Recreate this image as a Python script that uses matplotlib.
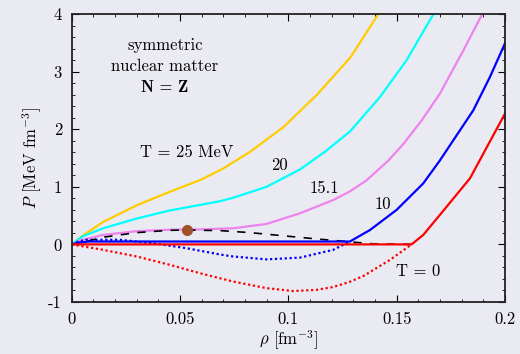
import matplotlib
matplotlib.use('Agg')
import matplotlib.pyplot as plt
from matplotlib.ticker import MultipleLocator

plt.rcParams['font.family'] = 'serif'
plt.rcParams['font.serif'] = ['cmr10', 'DejaVu Serif']
plt.rcParams['mathtext.fontset'] = 'cm'
plt.rcParams['axes.unicode_minus'] = False

# values (rho in fm^-3, P in MeV fm^-3)
rho_t25 = [0.0, 0.005, 0.0145, 0.03, 0.045, 0.06, 0.07, 0.0824, 0.0978, 0.1132, 0.1287, 0.1415]
p_t25 = [0.0, 0.15, 0.39, 0.68, 0.91, 1.13, 1.32, 1.61, 2.04, 2.60, 3.25, 4.0]

rho_t20 = [0.0, 0.005, 0.0145, 0.03, 0.0453, 0.0591, 0.0684, 0.0745, 0.0899, 0.1053, 0.1176,
           0.1284, 0.1423, 0.1546, 0.167]
p_t20 = [0.0, 0.14, 0.28, 0.45, 0.59, 0.685, 0.75, 0.81, 1.0, 1.3, 1.63, 1.96, 2.56, 3.2, 4.0]

rho_t15 = [0.0, 0.005, 0.0145, 0.03, 0.045, 0.059, 0.0745, 0.0899, 0.1053, 0.1207, 0.1284,
           0.136, 0.146, 0.153, 0.1615, 0.17, 0.1808, 0.1895]
p_t15 = [0.0, 0.08, 0.165, 0.23, 0.255, 0.26, 0.28, 0.355, 0.54, 0.77, 0.92, 1.11, 1.45, 1.74,
         2.15, 2.62, 3.37, 4.0]

rho_t10 = [0.0, 0.003, 0.008, 0.1284, 0.1377, 0.150, 0.1623, 0.170, 0.1854, 0.1931, 0.2]
p_t10 = [0.0, 0.03, 0.05, 0.05, 0.25, 0.60, 1.06, 1.46, 2.33, 2.91, 3.49]
rho_t10_unst = [0.0, 0.003, 0.0068, 0.0222, 0.0376, 0.053, 0.0684, 0.0745, 0.0899, 0.1053,
                0.1207, 0.1284]
p_t10_unst = [0.0, 0.05, 0.08, 0.08, 0.02, -0.066, -0.175, -0.21, -0.26, -0.23, -0.095, 0.05]

rho_t0 = [0.0, 0.1569, 0.1623, 0.1731, 0.1839, 0.1908, 0.2]
p_t0 = [0.0, 0.0, 0.165, 0.655, 1.15, 1.63, 2.27]
rho_t0_unst = [0.0, 0.0145, 0.03, 0.0453, 0.0591, 0.0745, 0.0899, 0.1022, 0.113, 0.1207,
               0.1284, 0.1346, 0.1469, 0.1569]
p_t0_unst = [0.0, -0.095, -0.21, -0.355, -0.5, -0.645, -0.76, -0.81, -0.79, -0.74, -0.65,
             -0.55, -0.27, 0.0]

rho_coex = [0.0, 0.0068, 0.0145, 0.03, 0.0453, 0.053, 0.0684, 0.0822, 0.0976, 0.113, 0.1253,
            0.139, 0.157]
p_coex = [0.0, 0.05, 0.125, 0.205, 0.245, 0.25, 0.24, 0.205, 0.15, 0.095, 0.055, 0.01, 0.0]

crit_rho = [0.053]
crit_p = [0.25]

fig, ax = plt.subplots(figsize=(5.2, 3.54), dpi=100)
bg = '#eaeaf2'
fig.patch.set_facecolor(bg)
ax.set_facecolor(bg)

lw = 1.6
dots = (0, (1, 1.2))
ax.plot(rho_t25, p_t25, color='#ffcc00', lw=lw)
ax.plot(rho_t20, p_t20, color='#00ffff', lw=lw)
ax.plot(rho_t15, p_t15, color='#ee82ee', lw=lw)
ax.plot(rho_t10_unst, p_t10_unst, color='#0000ff', lw=lw, ls=dots)
ax.plot(rho_t0_unst, p_t0_unst, color='#ff0000', lw=lw, ls=dots)
ax.plot(rho_coex, p_coex, color='black', lw=1.2, ls=(0, (5, 5)))
ax.plot(rho_t10, p_t10, color='#0000ff', lw=lw)
ax.plot(rho_t0, p_t0, color='#ff0000', lw=lw)
ax.plot(crit_rho, crit_p, 'o', color='#a0522d', ms=7, zorder=5)

fs = 12
ax.text(0.043, 3.45, 'symmetric', ha='center', va='center', fontsize=fs)
ax.text(0.043, 3.09, 'nuclear matter', ha='center', va='center', fontsize=fs)
ax.text(0.043, 2.72, 'N = Z', ha='center', va='center', fontsize=fs, family='cmb10')
ax.text(0.053, 1.60, 'T = 25 MeV', ha='center', va='center', fontsize=fs)
ax.text(0.096, 1.37, '20', ha='center', va='center', fontsize=fs)
ax.text(0.1164, 0.97, '15.1', ha='center', va='center', fontsize=fs)
ax.text(0.1437, 0.69, '10', ha='center', va='center', fontsize=fs)
ax.text(0.16, -0.47, 'T = 0', ha='center', va='center', fontsize=fs)

ax.set_xlim(0, 0.2)
ax.set_ylim(-1, 4)
ax.set_xticks([0, 0.05, 0.1, 0.15, 0.2])
ax.set_xticklabels(['0', '0.05', '0.1', '0.15', '0.2'])
ax.set_yticks([-1, 0, 1, 2, 3, 4])
ax.set_yticklabels(['-1', '0', '1', '2', '3', '4'])
ax.xaxis.set_minor_locator(MultipleLocator(0.01))
ax.yaxis.set_minor_locator(MultipleLocator(0.2))
ax.tick_params(which='both', direction='in', top=True, right=True, labelsize=fs)
ax.tick_params(which='major', length=5, pad=7)
ax.tick_params(which='minor', length=2.5)
for s in ax.spines.values():
    s.set_linewidth(1.3)
    s.set_color('#222222')

ax.set_xlabel(r'$\rho$ [fm$^{-3}$]', fontsize=fs, labelpad=1)
ax.set_ylabel(r'$P$ [MeV fm$^{-3}$]', fontsize=fs, labelpad=3)

fig.subplots_adjust(left=0.138, right=0.971, top=0.96, bottom=0.147)
fig.savefig('out.png', dpi=100, facecolor=bg)
